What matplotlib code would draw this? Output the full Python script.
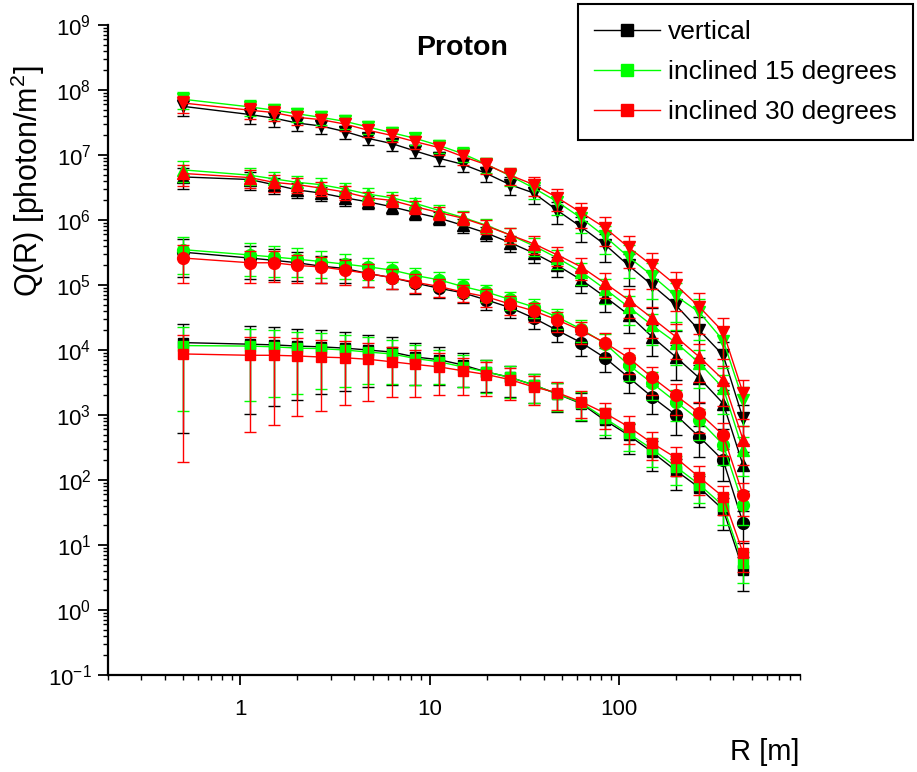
import numpy as np
import matplotlib
matplotlib.use("Agg")
import matplotlib.pyplot as plt
from matplotlib.lines import Line2D
from matplotlib.ticker import LogLocator, NullFormatter, FuncFormatter

plt.rcParams['font.family'] = ['Liberation Sans', 'DejaVu Sans']
plt.rcParams['mathtext.fontset'] = 'custom'
plt.rcParams['mathtext.rm'] = 'Liberation Sans'
plt.rcParams['mathtext.it'] = 'Liberation Sans:italic'
plt.rcParams['axes.unicode_minus'] = False

# distance from core [m]
R = [0.5, 1.12, 1.5, 2.0, 2.66, 3.55, 4.73, 6.3, 8.4, 11.2, 14.9, 19.9,
     26.5, 35.4, 47.2, 63, 84, 112, 149, 199, 265, 354, 450]

labels = ['vertical', 'inclined 15 degrees', 'inclined 30 degrees']
colors = ['#000000', '#00ff00', '#ff0000']

# squares (lowest group)
sq_vert = [1.3e4, 1.23e4, 1.2e4, 1.15e4, 1.12e4, 1.07e4, 1.0e4, 9.3e3, 7.8e3, 7.1e3, 5.9e3, 4.6e3,
           3.8e3, 2.9e3, 2.1e3, 1.5e3, 8.3e2, 4.9e2, 2.7e2, 1.4e2, 76, 35, 4.2]
sq_15 = [1.17e4, 1.15e4, 1.12e4, 1.07e4, 1.05e4, 1.0e4, 9.3e3, 8.7e3, 7.4e3, 6.6e3, 5.5e3, 4.6e3,
         3.8e3, 2.9e3, 2.1e3, 1.55e3, 8.9e2, 5.2e2, 3.0e2, 1.6e2, 85, 40, 5.2]
sq_30 = [8.7e3, 8.3e3, 8.3e3, 8.1e3, 7.8e3, 7.6e3, 7.2e3, 6.6e3, 6.0e3, 5.5e3, 4.8e3, 4.2e3,
         3.5e3, 2.7e3, 2.2e3, 1.6e3, 1.07e3, 6.6e2, 3.7e2, 2.2e2, 1.1e2, 55, 7.6]
sq_err_vert = [0.96, 0.915, 0.885, 0.85, 0.81, 0.78, 0.73, 0.69, 0.63, 0.59, 0.54, 0.51,
               0.50, 0.48, 0.47, 0.46, 0.47, 0.48, 0.49, 0.50, 0.50, 0.51, 0.54]
sq_err_15 = [0.90, 0.855, 0.83, 0.80, 0.76, 0.73, 0.68, 0.65, 0.61, 0.54, 0.51, 0.52,
             0.52, 0.48, 0.46, 0.45, 0.45, 0.46, 0.47, 0.48, 0.48, 0.50, 0.50]
sq_err_30 = [0.978, 0.934, 0.915, 0.88, 0.85, 0.81, 0.77, 0.71, 0.68, 0.63, 0.57, 0.54,
             0.51, 0.47, 0.45, 0.44, 0.44, 0.45, 0.46, 0.47, 0.47, 0.48, 0.50]

# circles
ci_vert = [3.2e5, 2.6e5, 2.4e5, 2.2e5, 1.95e5, 1.8e5, 1.5e5, 1.3e5, 1.07e5, 8.9e4, 7.6e4, 5.9e4,
           4.5e4, 3.1e4, 2.0e4, 1.3e4, 7.6e3, 3.8e3, 1.9e3, 1.0e3, 4.6e2, 2.0e2, 22]
ci_15 = [3.5e5, 2.9e5, 2.7e5, 2.5e5, 2.3e5, 2.1e5, 1.9e5, 1.7e5, 1.4e5, 1.2e5, 9.5e4, 7.8e4,
         6.0e4, 4.6e4, 3.2e4, 2.1e4, 1.26e4, 5.9e3, 3.1e3, 1.6e3, 8.3e2, 3.5e2, 42]
ci_30 = [2.6e5, 2.2e5, 2.2e5, 2.0e5, 1.9e5, 1.7e5, 1.5e5, 1.3e5, 1.1e5, 9.5e4, 7.8e4, 6.6e4,
         5.1e4, 4.0e4, 2.9e4, 2.0e4, 1.3e4, 7.6e3, 3.8e3, 2.0e3, 1.07e3, 4.9e2, 59]
ci_err = [0.58, 0.52, 0.5, 0.47, 0.44, 0.41, 0.38, 0.34, 0.32, 0.3, 0.3, 0.3,
          0.31, 0.32, 0.34, 0.37, 0.4, 0.43, 0.46, 0.5, 0.5, 0.52, 0.52]

# up triangles
up_vert = [4.6e6, 4.2e6, 3.5e6, 2.9e6, 2.6e6, 2.2e6, 1.9e6, 1.6e6, 1.3e6, 1.07e6, 8.3e5, 6.3e5,
           4.5e5, 3.1e5, 2.0e5, 1.2e5, 6.6e4, 3.5e4, 1.6e4, 7.8e3, 3.7e3, 1.5e3, 1.7e2]
up_15 = [5.9e6, 4.9e6, 4.3e6, 3.8e6, 3.5e6, 3.0e6, 2.5e6, 2.2e6, 1.8e6, 1.4e6, 1.1e6, 8.3e5,
         5.9e5, 4.0e5, 2.6e5, 1.6e5, 8.7e4, 4.6e4, 2.4e4, 1.3e4, 6.3e3, 2.6e3, 2.9e2]
up_30 = [5.2e6, 4.5e6, 3.8e6, 3.5e6, 3.1e6, 2.7e6, 2.2e6, 2.0e6, 1.6e6, 1.3e6, 1.07e6, 8.1e5,
         5.9e5, 4.3e5, 2.9e5, 1.9e5, 1.07e5, 5.9e4, 3.1e4, 1.6e4, 7.8e3, 3.5e3, 4.2e2]
up_err = [0.35, 0.3, 0.28, 0.26, 0.25, 0.24, 0.23, 0.22, 0.22, 0.22, 0.23, 0.25,
          0.28, 0.3, 0.33, 0.38, 0.42, 0.47, 0.5, 0.55, 0.58, 0.6, 0.6]

# down triangles (highest group)
dn_vert = [5.6e7, 4.2e7, 3.7e7, 3.1e7, 2.8e7, 2.3e7, 1.8e7, 1.5e7, 1.15e7, 8.9e6, 7.2e6, 5.2e6,
           3.5e6, 2.6e6, 1.4e6, 7.8e5, 4.2e5, 2.0e5, 1.0e5, 4.9e4, 2.0e4, 8.3e3, 8.9e2]
dn_15 = [7.2e7, 5.5e7, 4.9e7, 4.3e7, 3.8e7, 3.3e7, 2.7e7, 2.2e7, 1.8e7, 1.4e7, 1.05e7, 7.2e6,
         4.8e6, 3.1e6, 1.9e6, 1.07e6, 5.6e5, 2.7e5, 1.4e5, 6.8e4, 3.8e4, 1.4e4, 1.7e3]
dn_30 = [6.3e7, 4.9e7, 4.5e7, 3.8e7, 3.5e7, 3.0e7, 2.4e7, 2.0e7, 1.6e7, 1.3e7, 9.5e6, 7.1e6,
         4.9e6, 3.5e6, 2.2e6, 1.3e6, 7.6e5, 3.8e5, 2.0e5, 1.0e5, 4.6e4, 1.9e4, 2.2e3]
dn_err = [0.3, 0.28, 0.26, 0.25, 0.24, 0.23, 0.22, 0.22, 0.22, 0.23, 0.25, 0.27,
          0.3, 0.33, 0.37, 0.42, 0.47, 0.52, 0.56, 0.6, 0.62, 0.62, 0.6]

groups = [
    ('s', 7.5, [sq_vert, sq_15, sq_30], [sq_err_vert, sq_err_15, sq_err_30]),
    ('o', 8.5, [ci_vert, ci_15, ci_30], [ci_err, ci_err, ci_err]),
    ('^', 9, [up_vert, up_15, up_30], [up_err, up_err, up_err]),
    ('v', 9, [dn_vert, dn_15, dn_30], [dn_err, dn_err, dn_err]),
]

fig = plt.figure(figsize=(9.17, 7.72), dpi=100)
ax = fig.add_axes([0.1178, 0.1256, 0.7546, 0.842])
ax.set_xscale('log')
ax.set_yscale('log')

x = np.array(R)
for k in range(3):  # black, then green, red on top
    for marker, ms, vals, errs in groups:
        y = np.array(vals[k])
        e = np.array(errs[k]) * y
        ax.errorbar(x, y, yerr=e, fmt=marker + '-', color=colors[k], ms=ms, lw=1,
                    elinewidth=1, capsize=4, capthick=1, zorder=2 + k)

ax.set_xlim(0.2, 900)
ax.set_ylim(0.1, 1e9)

for s in ['top', 'right']:
    ax.spines[s].set_visible(False)
for s in ['left', 'bottom']:
    ax.spines[s].set_linewidth(1.6)

ax.yaxis.set_major_locator(LogLocator(base=10, numticks=20))
ax.yaxis.set_minor_locator(LogLocator(base=10, subs=np.arange(2, 10), numticks=20))
ax.yaxis.set_minor_formatter(NullFormatter())
ax.xaxis.set_major_locator(LogLocator(base=10, numticks=10))
ax.xaxis.set_minor_locator(LogLocator(base=10, subs=np.arange(2, 10), numticks=10))
ax.xaxis.set_major_formatter(FuncFormatter(lambda v, p: '%g' % v))
ax.xaxis.set_minor_formatter(NullFormatter())

ax.tick_params(which='major', direction='out', length=7, width=1.3, labelsize=16)
ax.tick_params(which='minor', direction='out', length=3.5, width=1.0)
ax.tick_params(axis='x', which='major', pad=10)
ax.tick_params(axis='y', which='major', pad=5)

ax.text(0.512, 0.965, 'Proton', transform=ax.transAxes, ha='center', va='center',
        fontsize=20.5, fontweight='bold')

fig.text(800 / 917, 1 - 752 / 772, 'R [m]', ha='right', va='center', fontsize=21)
fig.text(28 / 917, 1 - 181 / 772, 'Q(R) [photon/m$^2$]', rotation=90,
         ha='center', va='center', fontsize=22)

handles = [Line2D([], [], color=c, marker='s', ms=9, lw=1) for c in colors]
leg = fig.legend(handles, labels, loc='upper left', bbox_to_anchor=(578 / 917, 1 - 4 / 772),
                 bbox_transform=fig.transFigure, frameon=True, fancybox=False,
                 edgecolor='black', fontsize=19, handlelength=2.5, handletextpad=0.3,
                 labelspacing=0.6, borderpad=0.62, borderaxespad=0)
leg.get_frame().set_linewidth(1.5)
leg.get_frame().set_alpha(1)

fig.savefig('out.png', dpi=100)
